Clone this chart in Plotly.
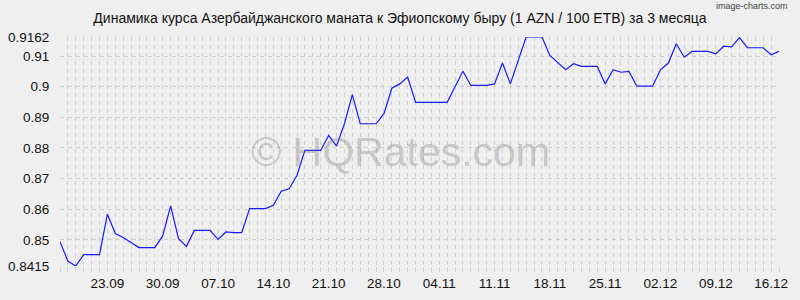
import plotly.graph_objects as go
import pandas as pd

# Data: daily AZN/ETB rate, 17.09.2024 - 17.12.2024
start_date = "2024-09-17"
rates = [
    0.8494, 0.8431, 0.8415, 0.8452, 0.8452, 0.8452, 0.8584, 0.8521, 0.8508, 0.8491,
    0.8475, 0.8475, 0.8475, 0.8513, 0.8611, 0.8504, 0.8479, 0.8531, 0.8531, 0.8531,
    0.8502, 0.8526, 0.8524, 0.8524, 0.8602, 0.8602, 0.8602, 0.8613, 0.8659, 0.8667,
    0.8711, 0.8792, 0.8792, 0.8792, 0.8841, 0.8806, 0.8879, 0.8974, 0.8879, 0.8879,
    0.8879, 0.8912, 0.8995, 0.9009, 0.9031, 0.8949, 0.8949, 0.8949, 0.8949, 0.8949,
    0.9000, 0.9050, 0.9004, 0.9004, 0.9004, 0.9009, 0.9077, 0.9009, 0.9082, 0.9162,
    0.9162, 0.9162, 0.9102, 0.9080, 0.9055, 0.9075, 0.9066, 0.9066, 0.9066, 0.9009,
    0.9055, 0.9047, 0.9050, 0.9002, 0.9002, 0.9002, 0.9055, 0.9077, 0.9140, 0.9096,
    0.9115, 0.9115, 0.9115, 0.9107, 0.9132, 0.9130, 0.9160, 0.9127, 0.9127, 0.9127,
    0.9104, 0.9115,
]
dates = pd.date_range(start_date, periods=len(rates), freq="D")

tick_dates = ["2024-09-23", "2024-09-30", "2024-10-07", "2024-10-14", "2024-10-21",
              "2024-10-28", "2024-11-04", "2024-11-11", "2024-11-18", "2024-11-25",
              "2024-12-02", "2024-12-09", "2024-12-16"]
tick_labels = ["23.09", "30.09", "07.10", "14.10", "21.10", "28.10", "04.11",
               "11.11", "18.11", "25.11", "02.12", "09.12", "16.12"]
y_ticks = [0.8415, 0.85, 0.86, 0.87, 0.88, 0.89, 0.9, 0.91, 0.9162]
y_labels = ["0.8415", "0.85", "0.86", "0.87", "0.88", "0.89", "0.9", "0.91", "0.9162"]

title = "Динамика курса Азербайджанского маната к Эфиопскому быру (1 AZN / 100 ETB) за 3 месяца"

BG = "#efefef"
GRID = "#cfcfcf"
FONT = "Liberation Sans, Arial, sans-serif"

fig = go.Figure()
fig.add_trace(go.Scatter(
    x=dates, y=rates, mode="lines",
    line=dict(color="#1a1aff", width=1.2),
    hoverinfo="skip",
))

fig.update_layout(
    width=800, height=300,
    margin=dict(l=60, r=21, t=37, b=34, autoexpand=False),
    paper_bgcolor=BG, plot_bgcolor=BG,
    showlegend=False,
    font=dict(family=FONT, size=13, color="#111111"),
    title=dict(text=title, x=0.5, xanchor="center", y=1 - 18 / 300, yanchor="middle",
               font=dict(family=FONT, size=14, color="#111111")),
)

fig.update_xaxes(
    type="date", automargin=False,
    range=[dates[0], dates[-1]],
    tickvals=pd.to_datetime(tick_dates), ticktext=tick_labels,
    ticks="outside", ticklen=5, tickcolor=GRID, tickwidth=1,
    showgrid=True, gridcolor=GRID, griddash="4px,4px", gridwidth=1,
    minor=dict(dtick=86400000, showgrid=True, gridcolor=GRID, griddash="4px,4px",
               ticks="outside", ticklen=5, tickcolor=GRID),
    showline=False, zeroline=False,
    tickfont=dict(family=FONT, size=13.5, color="#111111"),
)
fig.update_yaxes(
    automargin=False,
    range=[y_ticks[0], y_ticks[-1]],
    tickvals=y_ticks, ticktext=y_labels,
    ticks="outside", ticklen=7, tickcolor="rgba(0,0,0,0)",
    showgrid=True, gridcolor=GRID, griddash="4px,4px", gridwidth=1,
    showline=False, zeroline=False,
    tickfont=dict(family=FONT, size=13.5, color="#111111"),
)

fig.add_annotation(
    text="© HQRates.com", xref="paper", yref="paper", x=(400 - 60) / 719, y=0.5,
    xanchor="center", yanchor="middle", showarrow=False,
    font=dict(family=FONT, size=41, color="rgba(115,115,115,0.32)"),
)
fig.add_annotation(
    text="image-charts.com", xref="paper", yref="paper",
    x=(790 - 60) / 719, y=(300 - 6 - 34) / 229, xanchor="right", yanchor="middle",
    showarrow=False, font=dict(family=FONT, size=9, color="#444444"),
)

fig.write_html("out.html")
